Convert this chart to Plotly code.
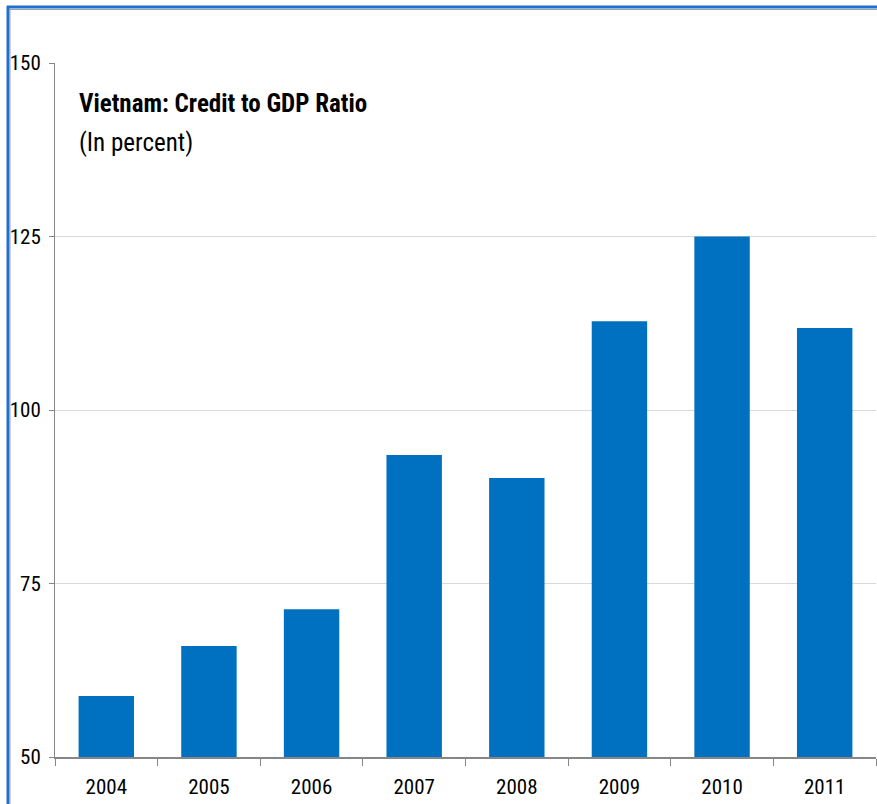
import plotly.graph_objects as go

# Vietnam credit-to-GDP ratio, percent
years = ["2004", "2005", "2006", "2007", "2008", "2009", "2010", "2011"]
credit_ratio = [58.8, 66.0, 71.3, 93.5, 90.2, 112.8, 125.0, 111.8]
y_ticks = [50, 75, 100, 125, 150]

W, H = 877, 804
L, R, T, B = 55, 1, 63, 47
pw, ph = W - L - R, H - T - B

def px_x(x):
    return (x - L) / pw

def px_y(y):
    return (H - B - y) / ph

FONT = "Liberation Sans Narrow, Arial Narrow, Roboto Condensed, sans-serif"
BLUE = "#0070C0"

fig = go.Figure(
    go.Bar(
        x=years,
        y=credit_ratio,
        marker=dict(color=BLUE, line=dict(width=0)),
        hoverinfo="x+y",
    )
)

fig.update_layout(
    width=W,
    height=H,
    margin=dict(l=L, r=R, t=T, b=B, pad=0),
    paper_bgcolor="white",
    plot_bgcolor="white",
    bargap=0.46,
    showlegend=False,
    font=dict(family=FONT, size=21, color="#000000"),
    xaxis=dict(
        type="category",
        showgrid=False,
        showline=True,
        linecolor="#868686",
        linewidth=2,
        ticks="outside",
        tickson="boundaries",
        ticklen=7,
        tickcolor="#868686",
        ticklabelstandoff=10,
        tickfont=dict(family=FONT, size=21, color="#000000"),
    ),
    yaxis=dict(
        range=[50, 150],
        tickvals=y_ticks,
        showgrid=True,
        gridcolor="#D9D9D9",
        gridwidth=1,
        showline=True,
        linecolor="#868686",
        linewidth=1,
        ticks="outside",
        ticklen=5,
        tickcolor="#868686",
        ticklabelstandoff=4,
        zeroline=False,
        tickfont=dict(family=FONT, size=21, color="#000000"),
    ),
    annotations=[
        dict(
            text="<b>Vietnam: Credit to GDP Ratio</b>",
            xref="paper", yref="paper",
            x=px_x(77), y=px_y(87),
            xanchor="left", yanchor="top",
            showarrow=False,
            font=dict(family=FONT, size=25, color="#000000"),
        ),
        dict(
            text="(In percent)",
            xref="paper", yref="paper",
            x=px_x(77), y=px_y(126),
            xanchor="left", yanchor="top",
            showarrow=False,
            font=dict(family=FONT, size=25, color="#000000"),
        ),
    ],
    shapes=[
        # outer frame: blue edge with a thin grey inner rule
        dict(type="line", xref="paper", yref="paper",
             x0=px_x(8), x1=px_x(8), y0=px_y(6), y1=px_y(H + 5),
             line=dict(color="#1F6FD0", width=3)),
        dict(type="line", xref="paper", yref="paper",
             x0=px_x(7), x1=px_x(W + 5), y0=px_y(7), y1=px_y(7),
             line=dict(color="#1F6FD0", width=3)),
        dict(type="line", xref="paper", yref="paper",
             x0=px_x(10), x1=px_x(10), y0=px_y(9), y1=px_y(H + 5),
             line=dict(color="#A0A0A0", width=1)),
        dict(type="line", xref="paper", yref="paper",
             x0=px_x(10), x1=px_x(W + 5), y0=px_y(9.5), y1=px_y(9.5),
             line=dict(color="#A0A0A0", width=1)),
    ],
)

fig.write_html("out.html")
